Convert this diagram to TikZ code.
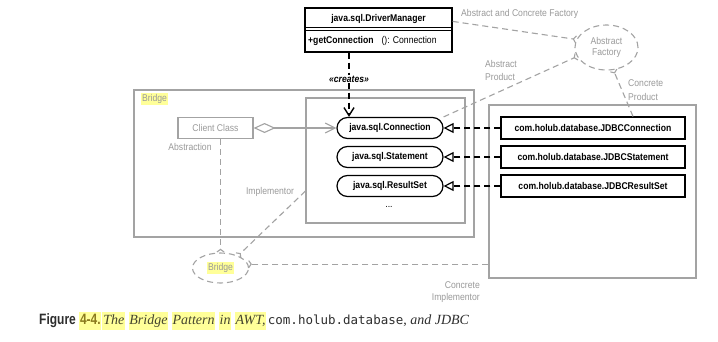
\documentclass[tikz,border=0pt]{standalone}
\usepackage{fontspec}
\usetikzlibrary{arrows.meta,shapes.geometric,calc}
\newfontfamily\cf[FakeStretch=0.88]{Liberation Sans}
\newfontfamily\cfc[FakeStretch=0.8]{Liberation Sans}
\newfontfamily\capserif{Liberation Serif}
\newfontfamily\capmono{DejaVu Sans Mono}
\definecolor{gl}{HTML}{A3A3A3}
\definecolor{gt}{HTML}{9A9A9A}
\definecolor{hl}{HTML}{FFFF99}
\definecolor{fig}{HTML}{8A7A1E}
\definecolor{captx}{HTML}{2E2E2E}
\definecolor{capit}{HTML}{45452E}
\newcommand\hlb[1]{{\setlength\fboxsep{0.8pt}\colorbox{hl}{\strut #1}}}
\newcommand\hli[1]{\hlb{\capserif\itshape\color{capit}#1}}
\begin{document}
\begin{tikzpicture}[x=1pt,y=-1pt,
  every node/.style={font=\cf\fontsize{9.8}{11}\selectfont, inner sep=0pt},
  cls/.style={draw=black, line width=1.2pt, minimum height=22pt, font=\cf\bfseries\fontsize{9.8}{11}\selectfont},
  jdbc/.style={cls, minimum width=184pt},
  iface/.style={cls, rounded corners=10.5pt, minimum width=106pt, minimum height=21pt},
  gbox/.style={draw=gl, line width=1.1pt},
  gtext/.style={text=gt},
  gdash/.style={draw=gl, line width=1.1pt, dash pattern=on 6pt off 4pt},
  barb/.style={-{Straight Barb[reversed,length=2.5pt,width=7pt]}},
  impl/.style={draw=black, line width=1.2pt, dash pattern=on 6pt off 4pt, -{Triangle[open,length=10pt,width=10pt]}},
]
\useasboundingbox[fill=white] (0,0) rectangle (718,341);

% containers
\node[gbox, minimum width=340pt, minimum height=147pt] (bridgebox) at (304,163.5) {};
\node[gbox, minimum width=159pt, minimum height=125pt] (inner) at (385.5,160.5) {};
\node[gbox, minimum width=207pt, minimum height=173pt] (conc) at (592.5,191.5) {};

% driver manager
\node[draw, line width=1.2pt, minimum width=147pt, minimum height=44pt] (dm) at (378.5,30) {};
\node[font=\cf\bfseries\fontsize{9.8}{11}\selectfont] (dmt) at (378.5,18.5) {java.sql.DriverManager};
\node[anchor=west] (dmm) at (308,41) {\bfseries +getConnection\hspace{8pt}\mdseries(): Connection};
\draw[line width=0.9pt] ([yshift=-20.3pt]dm.north west) -- ([yshift=-20.3pt]dm.north east);
\draw[line width=0.9pt] ([yshift=-23.3pt]dm.north west) -- ([yshift=-23.3pt]dm.north east);

% interfaces
\node[iface] (conn) at (390,128) {java.sql.Connection};
\node[iface] (stmt) at (390,157) {java.sql.Statement};
\node[iface] (rs) at (390,186) {java.sql.ResultSet};
\node (dots) at (389,207) {...};

% implementations
\node[jdbc] (jc1) at (593,128) {com.holub.database.JDBCConnection};
\node[jdbc] (jc2) at (593,157) {com.holub.database.JDBCStatement};
\node[jdbc] (jc3) at (593,186) {com.holub.database.JDBCResultSet};
\draw[impl] (jc1.west) -- (conn.east);
\draw[impl] (jc2.west) -- (stmt.east);
\draw[impl] (jc3.west) -- (rs.east);

% client
\node[gbox, gtext, minimum width=75pt, minimum height=21pt] (cc) at (215.5,128) {Client Class};
\draw[draw=gl, line width=1.1pt, {Diamond[open,length=22pt,width=10pt]}-{Straight Barb[length=10pt,width=10pt]}] (cc.east) -- (conn.west);

% ellipses
\node[ellipse, gdash, minimum width=63pt, minimum height=45pt, gtext, align=center, font=\cf\fontsize{9.8}{10.6}\selectfont] (af) at (606.5,47.5) {Abstract\\Factory};
\node[ellipse, gdash, minimum width=56pt, minimum height=30pt, gtext] (br) at (220.5,268) {\hlb{Bridge}};

% annotation lines
\draw[gdash, barb] ([yshift=-14pt]dm.north east) -- (af.165);
\draw[gdash, barb] (conn.north east) -- (af.197);
\draw[gdash, barb] ([xshift=40pt]jc1.north) -- (af.287);
\draw[gdash, barb] (cc.south -| br.north) -- (br.north);
\draw[gdash, barb] ([yshift=-30.5pt]inner.west) -- (br.35);
\draw[gdash, barb] (conc.west |- br.8) -- (br.8);

% creates
\coordinate (crs) at ([xshift=-29.5pt]dm.south);
\draw[black, line width=1.4pt, dash pattern=on 6pt off 4pt, -{Straight Barb[length=8pt,width=10pt]}] (crs) -- (crs |- conn.north);
\node[fill=white, inner sep=1pt, font=\cf\bfseries\itshape\fontsize{9.8}{11}\selectfont] (cre) at (349,79) {«creates»};

% labels
\node[gtext, anchor=west] (lacf) at (461,14) {Abstract and Concrete Factory};
\node[gtext, anchor=west, align=left, font=\cf\fontsize{9.8}{13}\selectfont] (lap) at (485,70.5) {Abstract\\Product};
\node[gtext, anchor=west, align=left, font=\cf\fontsize{9.8}{14}\selectfont] (lcp) at (628,90) {Concrete\\Product};
\node[gtext, anchor=east, align=right, font=\cf\fontsize{9.8}{12}\selectfont] (lci) at (480,292) {Concrete\\Implementor};
\node[gtext, anchor=west] (lbr) at (141,99) {\hlb{Bridge}};
\node[gtext] (labs) at (190,147) {Abstraction};
\node[gtext] (limp) at (270,192) {Implementor};

% caption
\node[anchor=base west, text=captx, font=\capserif\fontsize{14}{16}\selectfont] (cap) at (39,324)
 {{\cfc\bfseries\fontsize{15}{16}\selectfont Figure \hlb{\color{fig}4-4.}}\hspace{1pt}%
  \hli{The} \hli{Bridge} \hli{Pattern} \hli{in} \hli{AWT,}\hspace{1.5pt}{\capmono\fontsize{12.5}{16}\selectfont com.holub.database}, {\itshape and JDBC}};
\end{tikzpicture}
\end{document}
